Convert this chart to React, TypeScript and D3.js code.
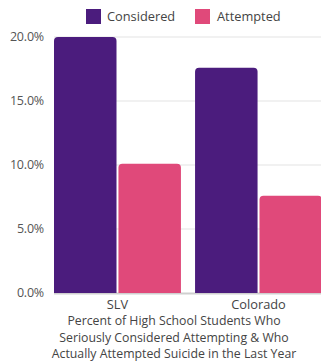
import React from "react";
import * as d3 from "d3";

const categories = ["SLV", "Colorado"];
const seriesNames = ["Considered", "Attempted"];
const considered = [20.0, 17.6];
const attempted = [10.1, 7.6];
const yTicks = [0, 5, 10, 15, 20];
const titleLines = [
  "Percent of High School Students Who",
  "Seriously Considered Attempting & Who",
  "Actually Attempted Suicide in the Last Year",
];
const colors = ["#4b1c7d", "#e0497a"];

const W = 321;
const H = 364;
const FONT = "'Open Sans', sans-serif";

function topRounded(x: number, y: number, w: number, h: number, r: number) {
  const rr = Math.min(r, w / 2, h);
  return `M${x},${y + h}V${y + rr}Q${x},${y} ${x + rr},${y}H${x + w - rr}Q${x + w},${y} ${x + w},${y + rr}V${y + h}Z`;
}

export default function App() {
  const y = d3.scaleLinear().domain([0, 20]).range([293, 37]);
  const x0 = d3.scaleBand<string>().domain(categories).range([54, 322]).paddingInner(0.1).paddingOuter(0);
  const x1 = d3.scaleBand<string>().domain(seriesNames).range([0, x0.bandwidth()]).paddingInner(0.03);
  const values = [considered, attempted];

  return (
    <svg width={W} height={H} style={{ position: "absolute", left: 0, top: 0, background: "#fff" }} fontFamily={FONT}>
      {/* legend */}
      <g>
        <rect x={86} y={9} width={15} height={15} fill={colors[0]} />
        <text x={107} y={21} fontSize={12.8} fill="#444">{seriesNames[0]}</text>
        <rect x={195} y={9} width={15} height={15} fill={colors[1]} />
        <text x={217} y={21} fontSize={12.8} fill="#444">{seriesNames[1]}</text>
      </g>
      {/* grid */}
      {yTicks.map((t) => (
        <g key={t}>
          {t > 0 && <line x1={54} x2={W} y1={y(t)} y2={y(t)} stroke="#e3e3e3" strokeWidth={1} />}
          <text x={44} y={y(t) + 4} fontSize={12.5} fill="#555" textAnchor="end" letterSpacing={-0.2}>
            {t.toFixed(1)}%
          </text>
        </g>
      ))}
      <line x1={54} x2={W} y1={y(0) + 0.5} y2={y(0) + 0.5} stroke="#cfcfcf" strokeWidth={2} />
      {/* bars */}
      {categories.map((c, i) => (
        <g key={c} transform={`translate(${x0(c)},0)`}>
          {seriesNames.map((s, j) => {
            const v = values[j][i];
            return (
              <path
                key={s}
                d={topRounded(x1(s)!, y(v), x1.bandwidth(), y(0) - y(v), 4)}
                fill={colors[j]}
              />
            );
          })}
          <text x={x0.bandwidth() / 2} y={309} fontSize={12.8} fill="#444" textAnchor="middle">{c}</text>
        </g>
      ))}
      {/* title */}
      {titleLines.map((l, i) => (
        <text key={i} x={174} y={325 + i * 16.5} fontSize={12.3} fill="#444" textAnchor="middle">{l}</text>
      ))}
    </svg>
  );
}
